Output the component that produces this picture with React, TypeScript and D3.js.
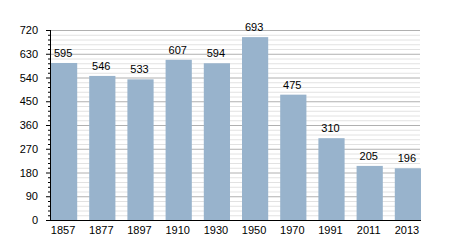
import React from "react";
import * as d3 from "d3";

const years = ["1857", "1877", "1897", "1910", "1930", "1950", "1970", "1991", "2011", "2013"];
const population = [595, 546, 533, 607, 594, 693, 475, 310, 205, 196];
const yTicks = [0, 90, 180, 270, 360, 450, 540, 630, 720];

export default function App() {
  const W = 450, H = 250;
  const left = 50, right = 420, top = 30, bottom = 220;
  const x = d3.scaleBand<string>().domain(years).range([left + 1, right + 1]).paddingInner(0.314).paddingOuter(0);
  const y = d3.scaleLinear().domain([0, 720]).range([bottom, top]);
  const minor = d3.range(0, 721, 18);
  const font = "'Liberation Sans', Arial, sans-serif";
  return (
    <svg width={W} height={H} style={{ position: "absolute", left: 0, top: 0 }}>
      <rect width={W} height={H} fill="#fff" />
      {minor.map((v) => (
        <line key={"m" + v} x1={left} x2={right} y1={y(v) + 0.5} y2={y(v) + 0.5}
          stroke={v % 90 === 0 ? "#b0b0b0" : "#e2e2e2"} strokeWidth={1} />
      ))}
      {minor.map((v) => (
        <line key={"t" + v} x1={v % 90 === 0 ? left - 4 : left - 2} x2={left} y1={y(v) + 0.5} y2={y(v) + 0.5}
          stroke="#000" strokeWidth={1} />
      ))}
      {years.map((yr, i) => (
        <rect key={yr} x={x(yr)} y={y(population[i])} width={x.bandwidth()} height={bottom - y(population[i])}
          fill="#98b3cc" />
      ))}
      {years.map((yr, i) => (
        <text key={"v" + yr} x={(x(yr) as number) + x.bandwidth() / 2 - 1} y={y(population[i]) - 6}
          textAnchor="middle" fontFamily={font} fontSize={11} fill="#000">{population[i]}</text>
      ))}
      <line x1={left + 0.5} x2={left + 0.5} y1={top} y2={bottom + 1} stroke="#000" />
      <line x1={left} x2={right + 1} y1={bottom + 0.5} y2={bottom + 0.5} stroke="#000" />
      {yTicks.map((v) => (
        <text key={"yl" + v} x={left - 12} y={y(v) + 4} textAnchor="end" fontFamily={font} fontSize={11} fill="#000">{v}</text>
      ))}
      {years.map((yr) => (
        <text key={"xl" + yr} x={(x(yr) as number) + x.bandwidth() / 2 - 1} y={bottom + 14}
          textAnchor="middle" fontFamily={font} fontSize={11} fill="#000">{yr}</text>
      ))}
    </svg>
  );
}
